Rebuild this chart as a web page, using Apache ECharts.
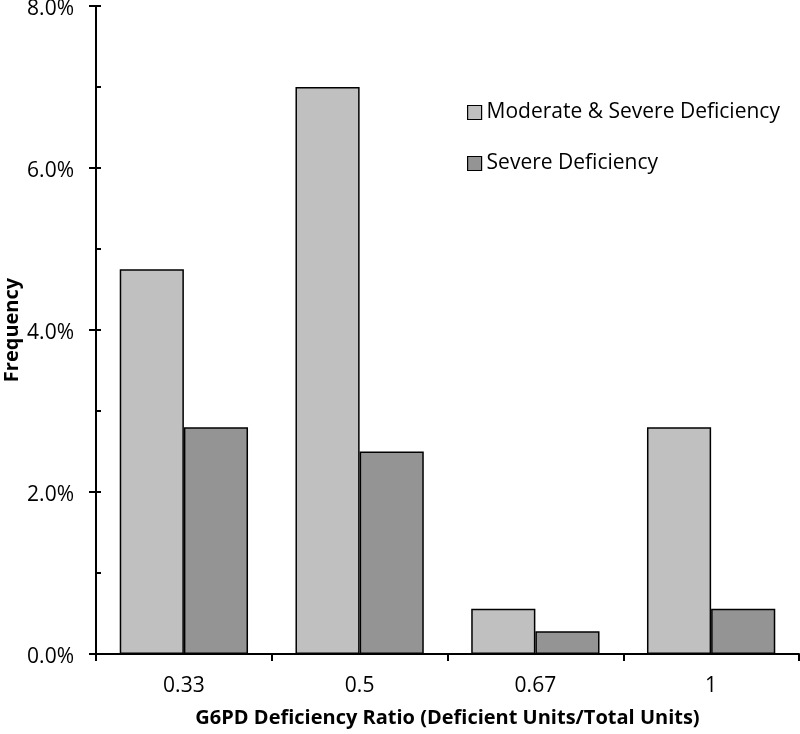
<!DOCTYPE html>
<html><head><meta charset="utf-8">
<script src="https://cdn.jsdelivr.net/npm/echarts@6/dist/echarts.min.js"></script>
<style>html,body{margin:0;padding:0;background:#fff}#c{width:800px;height:734px}</style>
</head><body><div id="c"></div>
<script>
const categories = ['0.33', '0.5', '0.67', '1'];
const moderateSevere = [4.75, 7.0, 0.56, 2.8];
const severe = [2.8, 2.5, 0.28, 0.56];
const seriesNames = ['Moderate & Severe Deficiency', 'Severe Deficiency'];
const yTicks = [0, 2, 4, 6, 8];

const font = '"Open Sans", sans-serif';
const fs = 21;
const fsb = 20;
const chart = echarts.init(document.getElementById('c'), null, {renderer: 'canvas'});
const yMin = yTicks[0], yMax = yTicks[yTicks.length - 1], yInt = yTicks[1] - yTicks[0];
chart.setOption({
  animation: false,
  backgroundColor: '#fff',
  textStyle: {fontFamily: font, color: '#000'},
  grid: {left: 96, right: 1, top: 6, bottom: 80, containLabel: false, outerBoundsMode: 'none'},
  legend: {
    orient: 'vertical', left: 467, top: 102, padding: 0, itemWidth: 14, itemHeight: 14, itemGap: 30,
    icon: 'rect',
    textStyle: {fontFamily: font, fontSize: fs, color: '#000'},
    data: seriesNames.map(n => ({name: n, itemStyle: {borderColor: '#000', borderWidth: 1.2}}))
  },
  xAxis: {
    type: 'category', data: categories,
    axisLine: {lineStyle: {color: '#000', width: 2}},
    axisTick: {show: true, length: 7, lineStyle: {color: '#000', width: 2}},
    axisLabel: {fontFamily: font, fontSize: fs, color: '#000', margin: 22},
    name: 'G6PD Deficiency Ratio (Deficient Units/Total Units)',
    nameLocation: 'middle', nameGap: 54, nameMoveOverlap: false,
    nameTextStyle: {fontFamily: font, fontSize: fsb, fontWeight: 'bold', color: '#000'}
  },
  yAxis: [{
    type: 'value', min: yMin, max: yMax, interval: yInt, position: 'left',
    axisLine: {show: true, lineStyle: {color: '#000', width: 2}},
    axisTick: {show: true, length: 7, lineStyle: {color: '#000', width: 2}},
    splitLine: {show: false},
    axisLabel: {fontFamily: font, fontSize: fs, color: '#000', margin: 22,
      verticalAlign: 'top', lineHeight: 6,
      formatter: v => v.toFixed(1) + '%'},
    name: 'Frequency', nameLocation: 'middle', nameGap: 74, nameRotate: 90, nameMoveOverlap: false,
    nameTextStyle: {fontFamily: font, fontSize: fsb, fontWeight: 'bold', color: '#000'}
  }, {
    type: 'value', min: yMin, max: yMax, interval: yInt, position: 'left', offset: 0,
    axisLine: {show: false},
    axisTick: {show: true, inside: true, length: 5, lineStyle: {color: '#000', width: 2}},
    minorTick: {show: true, splitNumber: 2, length: 5, lineStyle: {color: '#000', width: 2}},
    splitLine: {show: false},
    axisLabel: {show: false}
  }],
  series: [{
    name: seriesNames[0], type: 'bar', data: moderateSevere,
    barGap: '0%', barCategoryGap: '27%',
    itemStyle: {color: '#c0c0c0', borderColor: '#000', borderWidth: 1.5}
  }, {
    name: seriesNames[1], type: 'bar', data: severe,
    itemStyle: {color: '#949494', borderColor: '#000', borderWidth: 1.5}
  }]
});
</script></body></html>
